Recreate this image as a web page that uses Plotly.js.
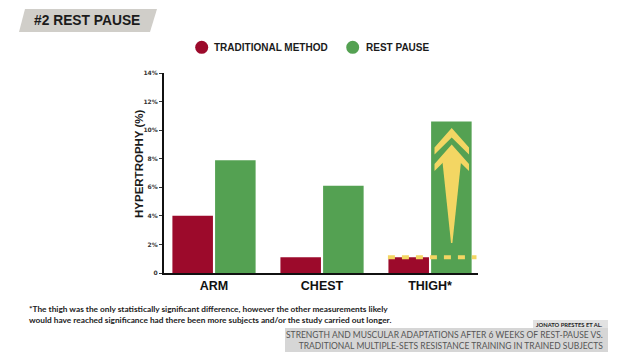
<!DOCTYPE html>
<html>
<head>
<meta charset="utf-8">
<script src="https://cdn.plot.ly/plotly-3.0.1.min.js"></script>
<style>html,body{margin:0;padding:0;background:#fff;}#chart{width:640px;height:360px;}</style>
</head>
<body>
<div id="chart"></div>
<script>
// ---- data ----
const categories = ["ARM", "CHEST", "THIGH*"];
const traditionalMethod = [4.0, 1.1, 1.1];
const restPause = [7.9, 6.1, 10.6];
const seriesNames = ["TRADITIONAL METHOD", "REST PAUSE"];
const yTickVals = [0, 2, 4, 6, 8, 10, 12, 14];
const yTickText = ["0", "2%", "4%", "6%", "8%", "10%", "12%", "14%"];

// ---- layout helpers (pixel -> paper) ----
const L = 164, R = 478, T = 73, B = 273;
const px = X => (X - L) / (R - L);
const py = Y => (B - Y) / (B - T);

const RED = "#9c0a2b", GREEN = "#54a152", YEL = "#f3d663";
const NARROW = "Liberation Sans Narrow, Liberation Sans, Arial, sans-serif";

const traces = [
  {type: "bar", x: categories, y: traditionalMethod, name: seriesNames[0],
   marker: {color: RED}, hoverinfo: "skip"},
  {type: "bar", x: categories, y: restPause, name: seriesNames[1],
   marker: {color: GREEN}, hoverinfo: "skip"}
];

function poly(pts) {
  return "M" + pts.map(p => px(p[0]) + "," + py(p[1])).join(" L") + " Z";
}

// arrow over the thigh rest-pause bar (decoration)
const chevron1 = [[434.5,147.5],[451.7,128],[469,147.5],[469,154.5],[451.7,137.5],[434.5,154.5]];
const chevron2 = [[434.5,164],[451.7,144.5],[469,164],[469,171],[451.7,154],[434.5,171]];
const shaft = [[442.5,162],[451.7,152],[461,162],[452.4,243],[451,243]];

const shapes = [
  // title banner
  {type: "path", xref: "paper", yref: "paper",
   path: poly([[25,9],[157,9],[150,32],[19,32]]),
   fillcolor: "#d0cec9", line: {width: 0}, layer: "below"},
  // legend dots
  {type: "circle", xref: "paper", yref: "paper",
   x0: px(195.2), x1: px(208.2), y0: py(53.8), y1: py(40.8),
   fillcolor: RED, line: {width: 0}},
  {type: "circle", xref: "paper", yref: "paper",
   x0: px(346.2), x1: px(359.2), y0: py(53.8), y1: py(40.8),
   fillcolor: GREEN, line: {width: 0}},
  // arrow
  {type: "path", xref: "paper", yref: "paper", path: poly(chevron1), fillcolor: YEL, line: {width: 0}},
  {type: "path", xref: "paper", yref: "paper", path: poly(chevron2), fillcolor: YEL, line: {width: 0}},
  {type: "path", xref: "paper", yref: "paper", path: poly(shaft), fillcolor: YEL, line: {width: 0}},
  // dashed baseline at thigh traditional level
  {type: "line", xref: "x", yref: "y", x0: 1.61, x1: 2.43,
   y0: traditionalMethod[2], y1: traditionalMethod[2],
   line: {color: YEL, width: 4, dash: "7px,7px"}},
  // citation boxes
  {type: "rect", xref: "paper", yref: "paper",
   x0: px(533), x1: px(608), y0: py(329), y1: py(320),
   fillcolor: "#e2e2e2", line: {width: 0}, layer: "below"},
  {type: "rect", xref: "paper", yref: "paper",
   x0: px(285), x1: px(608), y0: py(352), y1: py(328),
   fillcolor: "#d6d6d6", line: {width: 0}, layer: "below"}
];

const annotations = [
  {xref: "paper", yref: "paper", x: px(32), y: py(20.5), xanchor: "left", yanchor: "middle",
   text: "<b>#2 REST PAUSE</b>", showarrow: false,
   font: {family: NARROW, size: 13.8, color: "#1b1b1b"}},
  {xref: "paper", yref: "paper", x: px(212), y: py(47.5), xanchor: "left", yanchor: "middle",
   text: "<b>" + seriesNames[0] + "</b>", showarrow: false,
   font: {family: NARROW, size: 10, color: "#1b1b1b"}},
  {xref: "paper", yref: "paper", x: px(364), y: py(47.5), xanchor: "left", yanchor: "middle",
   text: "<b>" + seriesNames[1] + "</b>", showarrow: false,
   font: {family: NARROW, size: 10, color: "#1b1b1b"}},
  {xref: "paper", yref: "paper", x: px(139), y: py(164), xanchor: "center", yanchor: "middle",
   text: "<b>HYPERTROPHY (%)</b>", textangle: -90, showarrow: false,
   font: {family: NARROW, size: 11.5, color: "#1b1b1b"}},
  {xref: "paper", yref: "paper", x: px(27), y: py(314), xanchor: "left", yanchor: "middle", align: "left",
   text: "<b>*The thigh was the only statistically significant difference, however the other measurements likely<br>would have reached significance had there been more subjects and/or the study carried out longer.</b>",
   showarrow: false, font: {family: "Lato, sans-serif", size: 8.3, color: "#222"}},
  {xref: "paper", yref: "paper", x: px(605), y: py(324.5), xanchor: "right", yanchor: "middle",
   text: "<b>JONATO PRESTES ET AL.</b>", showarrow: false,
   font: {family: "Lato, sans-serif", size: 5.8, color: "#222"}},
  {xref: "paper", yref: "paper", x: px(605), y: py(340.5), xanchor: "right", yanchor: "middle", align: "right",
   text: "STRENGTH AND MUSCULAR ADAPTATIONS AFTER 6 WEEKS OF REST-PAUSE VS.<br>TRADITIONAL MULTIPLE-SETS RESISTANCE TRAINING IN TRAINED SUBJECTS",
   showarrow: false, font: {family: "Lato, sans-serif", size: 8.5, color: "#555"}}
];

const layout = {
  width: 640, height: 360,
  margin: {l: L, r: 640 - R, t: T, b: 360 - B, pad: 0},
  paper_bgcolor: "#ffffff", plot_bgcolor: "rgba(0,0,0,0)",
  showlegend: false,
  barmode: "group", bargap: 0.21, bargroupgap: 0.05,
  xaxis: {
    type: "category", range: [-0.463, 2.444],
    showgrid: false, zeroline: false,
    showline: true, linecolor: "#111", linewidth: 2,
    ticks: "",
    tickfont: {family: NARROW, size: 12.5, color: "#111", weight: "bold"},
    fixedrange: true
  },
  yaxis: {
    range: [0, 14], tickvals: yTickVals, ticktext: yTickText,
    showgrid: false, zeroline: false,
    showline: true, linecolor: "#111", linewidth: 2,
    ticks: "outside", ticklen: 3, tickwidth: 1, tickcolor: "#333",
    tickfont: {family: "DejaVu Sans, sans-serif", size: 6, color: "#333", weight: "bold"},
    fixedrange: true
  },
  shapes: shapes,
  annotations: annotations
};

Plotly.newPlot("chart", traces, layout, {staticPlot: true, displayModeBar: false});
</script>
</body>
</html>
